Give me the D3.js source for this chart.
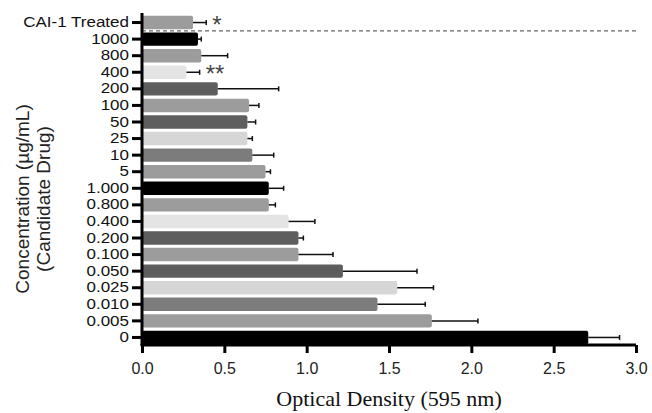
<!DOCTYPE html>
<html>
<head>
<meta charset="utf-8">
<script src="https://cdn.jsdelivr.net/npm/d3@7"></script>
<style>
  body { margin: 0; background: #fff; }
  text { font-family: "Liberation Sans", Arial, sans-serif; }
</style>
</head>
<body>
<script>
var width = 652,
    height = 413;

// concentrations, top to bottom
var categories = ["CAI-1 Treated", "1000", "800", "400", "200", "100", "50", "25", "10", "5",
  "1.000", "0.800", "0.400", "0.200", "0.100", "0.050", "0.025", "0.010", "0.005", "0"];
var values = [0.31, 0.34, 0.36, 0.27, 0.46, 0.65, 0.64, 0.64, 0.67, 0.75,
  0.77, 0.77, 0.89, 0.95, 0.95, 1.22, 1.55, 1.43, 1.76, 2.71];
var errors = [0.08, 0.02, 0.16, 0.08, 0.37, 0.06, 0.05, 0.03, 0.13, 0.03,
  0.09, 0.04, 0.16, 0.03, 0.21, 0.45, 0.22, 0.29, 0.28, 0.19];
var barColors = ["#9c9c9c", "#000000", "#9c9c9c", "#e4e4e4", "#5e5e5e", "#9c9c9c", "#5e5e5e", "#d6d6d6", "#7c7c7c", "#9c9c9c",
  "#000000", "#9c9c9c", "#e4e4e4", "#5e5e5e", "#9c9c9c", "#5e5e5e", "#d6d6d6", "#7c7c7c", "#9c9c9c", "#000000"];
var marks = {"CAI-1 Treated": "*", "400": "**"};
var xTicks = [0, 0.5, 1, 1.5, 2, 2.5, 3];

var svg = d3.select("body").append("svg")
    .attr("width", width)
    .attr("height", height);

var x = d3.scaleLinear().domain([0, 3]).range([142, 636]);
var y = d3.scaleBand().domain(categories).range([15, 345]).paddingInner(0.19).paddingOuter(0.05);

// bars
svg.append("g").selectAll("rect")
  .data(categories)
  .enter().append("rect")
    .attr("x", x(0))
    .attr("y", function(d) { return y(d); })
    .attr("width", function(d, i) { return x(values[i]) - x(0); })
    .attr("height", y.bandwidth())
    .attr("rx", 2)
    .attr("fill", function(d, i) { return barColors[i]; });

// error bars (one sided)
var eb = svg.append("g").selectAll("g")
  .data(categories)
  .enter().append("g")
    .attr("stroke", "#111")
    .attr("stroke-width", 1.5);
eb.append("line")
    .attr("x1", function(d, i) { return x(values[i]); })
    .attr("x2", function(d, i) { return x(values[i] + errors[i]); })
    .attr("y1", function(d) { return y(d) + y.bandwidth() / 2; })
    .attr("y2", function(d) { return y(d) + y.bandwidth() / 2; });
eb.append("line")
    .attr("x1", function(d, i) { return x(values[i] + errors[i]); })
    .attr("x2", function(d, i) { return x(values[i] + errors[i]); })
    .attr("y1", function(d) { return y(d) + y.bandwidth() / 2 - 2.5; })
    .attr("y2", function(d) { return y(d) + y.bandwidth() / 2 + 2.5; });

// significance stars
svg.append("g").selectAll("text")
  .data(categories.filter(function(d) { return marks[d]; }))
  .enter().append("text")
    .attr("x", function(d) { var i = categories.indexOf(d); return x(values[i] + errors[i]) + 6; })
    .attr("y", function(d) { return y(d) + y.bandwidth() / 2 + 10; })
    .attr("font-size", 24)
    .attr("fill", "#444")
    .text(function(d) { return marks[d]; });

// dashed separator under the control bar
var sepY = (y(categories[0]) + y.bandwidth() + y(categories[1])) / 2;
svg.append("line")
    .attr("x1", x(0)).attr("x2", x(3))
    .attr("y1", sepY).attr("y2", sepY)
    .attr("stroke", "#666")
    .attr("stroke-width", 1.2)
    .attr("stroke-dasharray", "4,3");

// axes
var yAxis = svg.append("g")
    .attr("transform", "translate(" + x(0) + ",0)")
    .call(d3.axisLeft(y).tickSize(10).tickPadding(3).tickSizeOuter(0));
yAxis.select(".domain").attr("stroke-width", 3).attr("d", "M0,13V345");
yAxis.selectAll(".tick line").attr("stroke-width", 3);
yAxis.selectAll(".tick text")
    .attr("font-size", 17)
    .attr("fill", "#111")
    .attr("font-family", "Liberation Sans, Arial, sans-serif")
    .attr("transform", "scale(1,0.85)");

var xAxis = svg.append("g")
    .attr("transform", "translate(0,345)")
    .call(d3.axisBottom(x).tickValues(xTicks).tickFormat(d3.format(".1f")).tickSize(8).tickPadding(10).tickSizeOuter(0));
xAxis.select(".domain").attr("stroke-width", 3).attr("d", "M" + (x(0) - 1.5) + ",0H" + x(3));
xAxis.selectAll(".tick line").attr("stroke-width", 3);
xAxis.selectAll(".tick text").attr("font-size", 16).attr("fill", "#222").attr("font-family", "Liberation Sans, Arial, sans-serif");

// axis titles
svg.append("text")
    .attr("x", 389)
    .attr("y", 406)
    .attr("text-anchor", "middle")
    .attr("font-size", 22)
    .style("font-family", "Liberation Serif, Times New Roman, serif")
    .attr("fill", "#111")
    .text("Optical Density (595 nm)");

var yt = svg.append("text")
    .attr("transform", "translate(29,199) rotate(-90)")
    .attr("text-anchor", "middle")
    .attr("font-size", 19)
    .attr("fill", "#222");
yt.append("tspan").attr("x", 0).attr("dy", 0).text("Concentration (µg/mL)");
yt.append("tspan").attr("x", 0).attr("dy", 21).text("(Candidate Drug)");
</script>
</body>
</html>
